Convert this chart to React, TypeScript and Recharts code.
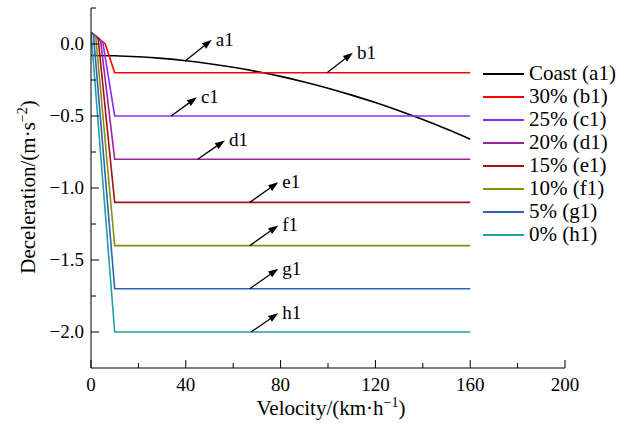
import React from "react";
import {
  LineChart,
  Line,
  XAxis,
  YAxis,
  ReferenceLine,
} from "recharts";

// coasting curve (a1)
const coastV = [0, 10, 20, 30, 40, 50, 60, 70, 80, 90, 100, 110, 120, 130, 140, 150, 160];
const coastA = [
  -0.08, -0.082, -0.089, -0.1, -0.116, -0.137, -0.162, -0.191, -0.225, -0.264,
  -0.307, -0.355, -0.407, -0.464, -0.525, -0.591, -0.661,
];

// braking curves b1..h1
const brakeNames = ["30% (b1)", "25% (c1)", "20% (d1)", "15% (e1)", "10% (f1)", "5% (g1)", "0% (h1)"];
const brakeColors = ["#ff0000", "#8a2cf6", "#98269c", "#a01214", "#8c8c12", "#2f62b4", "#1fa2a2"];
const startA = 0.08;
const kneeV = [6, 5, 4, 3, 2, 1, 0];
const kneeA = [0.0, 0.01, 0.03, 0.04, 0.05, 0.07, 0.08];
const settleV = 10;
const endV = 160;
const levels = [-0.2, -0.5, -0.8, -1.1, -1.4, -1.7, -2.0];

const xTicks = [0, 20, 40, 60, 80, 100, 120, 140, 160, 180, 200];
const yTicks = [0.25, 0, -0.25, -0.5, -0.75, -1, -1.25, -1.5, -1.75, -2];

// arrow annotations: tail on curve -> head near label
const notes = [
  { label: "a1", tail: [39.7, -0.118], head: [51, 0.03] },
  { label: "b1", tail: [99.6, -0.2], head: [110.5, -0.06] },
  { label: "c1", tail: [33.8, -0.5], head: [44.7, -0.37] },
  { label: "d1", tail: [45, -0.8], head: [56.5, -0.67] },
  { label: "e1", tail: [67, -1.1], head: [79, -0.96] },
  { label: "f1", tail: [67, -1.4], head: [79, -1.26] },
  { label: "g1", tail: [67, -1.7], head: [79, -1.56] },
  { label: "h1", tail: [67.5, -2.0], head: [79, -1.87] },
];

const FONT = "Liberation Serif";

const coastData = coastV.map((v, i) => ({ v, a: coastA[i] }));
const brakeData = levels.map((lv, i) => {
  const pts = [{ v: 0, a: startA }];
  if (kneeV[i] > 0) pts.push({ v: kneeV[i], a: kneeA[i] });
  pts.push({ v: settleV, a: lv }, { v: endV, a: lv });
  return pts;
});

const legendItems = [{ name: "Coast (a1)", color: "#000000" }].concat(
  brakeNames.map((n, i) => ({ name: n, color: brakeColors[i] })),
);

const XTick = (p: any) => {
  const { x, y, payload } = p;
  const major = payload.value % 40 === 0;
  return (
    <g>
      <line x1={x} x2={x} y1={y} y2={y - (major ? 8 : 5)} stroke="#000" />
      {major && (
        <text x={x} y={y + 23} textAnchor="middle" fontSize={19} fontFamily={FONT} fill="#000">
          {payload.value}
        </text>
      )}
    </g>
  );
};

const fmtY = (v: number) => (v === 0 ? "0.0" : "\u2212" + Math.abs(v).toFixed(1));

const YTick = (p: any) => {
  const { x, y, payload } = p;
  const major = Math.abs(payload.value * 2 - Math.round(payload.value * 2)) < 1e-6;
  return (
    <g>
      <line x1={x} x2={x + (major ? 8 : 5)} y1={y} y2={y} stroke="#000" />
      {major && (
        <text x={x - 7} y={y + 6} textAnchor="end" fontSize={19} fontFamily={FONT} fill="#000">
          {fmtY(payload.value)}
        </text>
      )}
    </g>
  );
};

const Arrow = (p: any) => {
  const { x1, y1, x2, y2, text } = p;
  const ang = Math.atan2(y2 - y1, x2 - x1);
  const len = 10;
  const w = 3.5;
  const bx = x2 - len * Math.cos(ang);
  const by = y2 - len * Math.sin(ang);
  const nx = -Math.sin(ang);
  const ny = Math.cos(ang);
  return (
    <g>
      <line x1={x1} y1={y1} x2={bx} y2={by} stroke="#000" strokeWidth={1.3} />
      <polygon
        points={`${x2},${y2} ${bx + nx * w},${by + ny * w} ${bx - nx * w},${by - ny * w}`}
        fill="#000"
      />
      <text x={x2 + 4} y={y2 + 6} fontSize={19} fontFamily={FONT} fill="#000">
        {text}
      </text>
    </g>
  );
};

const Chart = () => {
  return (
    <div style={{ position: "absolute", left: 0, top: 0, width: 628, height: 427, background: "#fff" }}>
      <LineChart
        width={628}
        height={427}
        margin={{ top: 8, right: 63, bottom: 0, left: 0 }}
      >
        <XAxis
          type="number"
          dataKey="v"
          domain={[0, 200]}
          ticks={xTicks}
          interval={0}
          height={59}
          tickSize={0}
          tickMargin={0}
          tickLine={false}
          tick={<XTick />}
          axisLine={{ stroke: "#000" }}
          allowDataOverflow
          label={{
            content: () => (
              <text x={331} y={415} textAnchor="middle" fontSize={21} fontFamily={FONT} fill="#000">
                Velocity/(km·h
                <tspan dy={-8} fontSize={14}>−1</tspan>
                <tspan dy={8}>)</tspan>
              </text>
            ),
          }}
        />
        <YAxis
          type="number"
          dataKey="a"
          domain={[-2.25, 0.25]}
          ticks={yTicks}
          interval={0}
          width={91}
          tickSize={0}
          tickMargin={0}
          tickLine={false}
          tick={<YTick />}
          axisLine={{ stroke: "#000" }}
          allowDataOverflow
          label={{
            content: () => (
              <text
                x={0}
                y={0}
                transform="translate(35,187) rotate(-90)"
                textAnchor="middle"
                fontSize={21}
                fontFamily={FONT}
                fill="#000"
              >
                Deceleration/(m·s
                <tspan dy={-8} fontSize={14}>−2</tspan>
                <tspan dy={8}>)</tspan>
              </text>
            ),
          }}
        />
        <Line
          data={coastData}
          dataKey="a"
          type="monotone"
          stroke="#000000"
          strokeWidth={1.6}
          dot={false}
          isAnimationActive={false}
        />
        {brakeData.map((d, i) => (
          <Line
            key={brakeNames[i]}
            data={d}
            dataKey="a"
            type="linear"
            stroke={brakeColors[i]}
            strokeWidth={1.6}
            dot={false}
            isAnimationActive={false}
          />
        ))}
        {notes.map((n) => (
          <ReferenceLine
            key={n.label}
            segment={[
              { x: n.tail[0], y: n.tail[1] },
              { x: n.head[0], y: n.head[1] },
            ]}
            ifOverflow="visible"
            shape={(p: any) => <Arrow {...p} text={n.label} />}
          />
        ))}
      </LineChart>
      <div style={{ position: "absolute", left: 483, top: 62, fontFamily: FONT, fontSize: 21 }}>
        {legendItems.map((it) => (
          <div key={it.name} style={{ display: "flex", alignItems: "center", height: 23 }}>
            <div style={{ width: 41, height: 2, background: it.color, marginRight: 5 }} />
            <span style={{ lineHeight: "23px", color: "#000" }}>{it.name}</span>
          </div>
        ))}
      </div>
    </div>
  );
};

export default function App() {
  return <Chart />;
}
